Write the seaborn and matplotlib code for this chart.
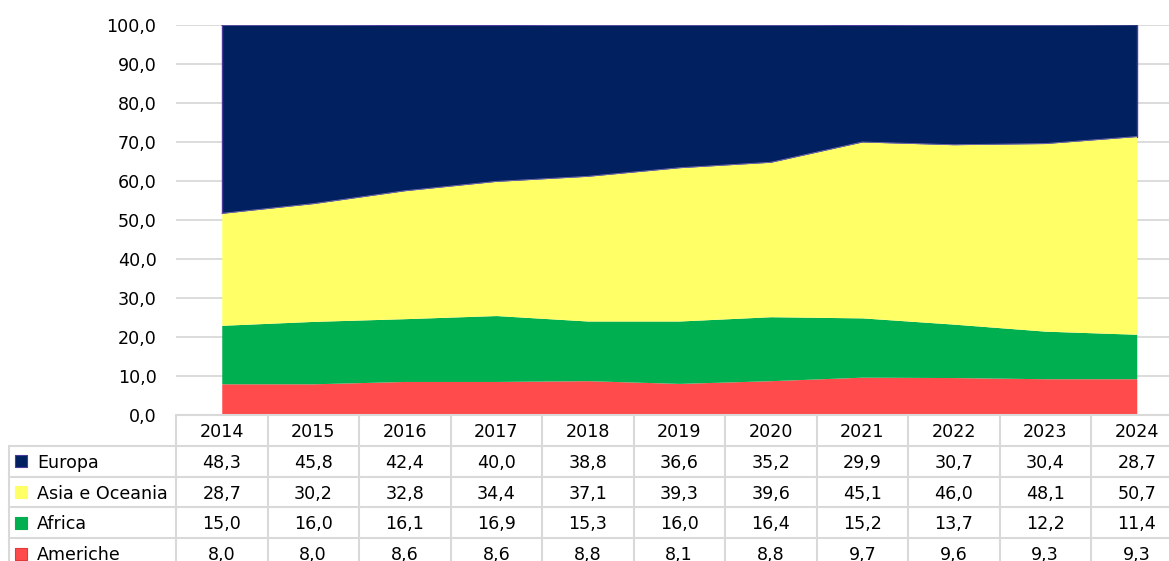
import matplotlib.pyplot as plt
import seaborn as sns
import numpy as np

# dati (quote %)
anni = ["2014", "2015", "2016", "2017", "2018", "2019", "2020", "2021", "2022", "2023", "2024"]
europa = [48.3, 45.8, 42.4, 40.0, 38.8, 36.6, 35.2, 29.9, 30.7, 30.4, 28.7]
asia_oceania = [28.7, 30.2, 32.8, 34.4, 37.1, 39.3, 39.6, 45.1, 46.0, 48.1, 50.7]
africa = [15.0, 16.0, 16.1, 16.9, 15.3, 16.0, 16.4, 15.2, 13.7, 12.2, 11.4]
americhe = [8.0, 8.0, 8.6, 8.6, 8.8, 8.1, 8.8, 9.7, 9.6, 9.3, 9.3]

serie = ["Europa", "Asia e Oceania", "Africa", "Americhe"]
valori = [europa, asia_oceania, africa, americhe]
colori = ["#002060", "#FFFF66", "#00B050", "#FF4B4B"]
bordi = ["#4B3B9B", "#FFFF66", "#00B050", "#E03A3A"]

sns.set_theme(style="white")
plt.rcParams['font.family'] = ['DejaVu Sans']
plt.rcParams['text.color'] = 'black'
plt.rcParams['ytick.color'] = 'black'
FS = 12.6
GRID = "#D9D9D9"

W, H = 1169, 561
fig = plt.figure(figsize=(W / 100, H / 100), dpi=100)

# layout in pixel
cw = 91.5           # larghezza colonna tabella
x0 = 176            # inizio colonne anni
y_top, y_zero = 25, 415
lab_w = 167         # colonna etichette
row_h = 30.8

ax = fig.add_axes([x0 / W, (H - y_zero) / H, len(anni) * cw / W, (y_zero - y_top) / H])
x = np.arange(len(anni))
ax.stackplot(x, americhe, africa, asia_oceania, europa,
             colors=colori[::-1], edgecolor=None, linewidth=0, zorder=2)
# bordo sottile in alto delle serie
cum = np.cumsum([americhe, africa, asia_oceania, europa], axis=0)
ax.plot(x, cum[3], color=bordi[0], lw=1, zorder=3)
ax.plot([0, 0], [cum[2][0], 100], color=bordi[0], lw=1, zorder=3)
ax.plot([10, 10], [cum[2][-1], 100], color=bordi[0], lw=1, zorder=3)
ax.plot(x, cum[2], color="#7A6FB0", lw=0.6, zorder=3)

ax.set_xlim(-0.5, len(anni) - 0.5)
ax.set_ylim(0, 100)
ax.set_yticks(np.arange(0, 101, 10))
ax.set_yticklabels([f"{v:.1f}".replace(".", ",") for v in np.arange(0, 101, 10)], fontsize=FS)
ax.set_xticks([])
ax.tick_params(axis="y", length=0, pad=14, labelcolor="black")
ax.yaxis.grid(True, color=GRID, lw=1.3, zorder=0)
ax.set_axisbelow(True)
for s in ax.spines.values():
    s.set_visible(False)

# tabella dati
n_rows = len(serie) + 1
tax = fig.add_axes([x0 / W, (H - y_zero - n_rows * row_h) / H, len(anni) * cw / W, n_rows * row_h / H])
tax.set_xlim(-0.5, len(anni) - 0.5)
tax.set_ylim(n_rows, 0)
tax.axis("off")
xl = -0.5 - lab_w / cw
lk = dict(color=GRID, lw=1.5, clip_on=False)
tax.plot([-0.5, len(anni) - 0.5], [0, 0], **lk)
for r in range(1, n_rows + 1):
    tax.plot([xl, len(anni) - 0.5], [r, r], **lk)
tax.plot([xl, xl], [1, n_rows], **lk)
for c in range(len(anni) + 1):
    tax.plot([c - 0.5, c - 0.5], [0, n_rows], **lk)

for i, a in enumerate(anni):
    tax.text(i, 0.55, a, ha="center", va="center", fontsize=FS, color="black", clip_on=False)
for r, (nome, vals, col, bd) in enumerate(zip(serie, valori, colori, bordi), start=1):
    tax.scatter([xl + 12 / cw], [r + 0.5], marker="s", s=70, color=col,
                edgecolor=bd, linewidth=0.8, clip_on=False, zorder=3)
    tax.text(xl + 28 / cw, r + 0.55, nome, ha="left", va="center", fontsize=FS,
             color="black", clip_on=False)
    for i, v in enumerate(vals):
        tax.text(i, r + 0.55, f"{v:.1f}".replace(".", ","), ha="center", va="center",
                 fontsize=FS, color="black", clip_on=False)

plt.savefig("out.png", dpi=100)
